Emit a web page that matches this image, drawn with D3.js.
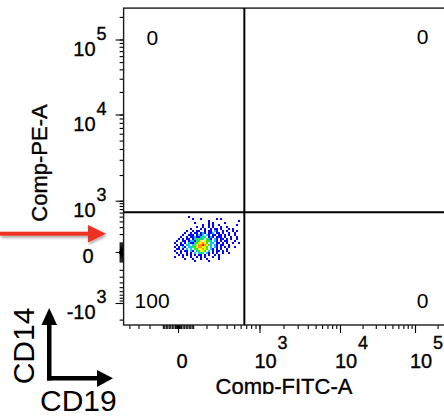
<!DOCTYPE html>
<html>
<head>
<meta charset="utf-8">
<script src="https://cdn.jsdelivr.net/npm/d3@7"></script>
<style>
body { margin: 0; background: #fff; }
text { font-family: "Liberation Sans", Arial, sans-serif; fill: #000; }
.lab { stroke: #000; stroke-width: 0.35px; }
</style>
</head>
<body>
<div id="chart"></div>
<script>
// axis data (raw fluorescence values)
var fitcMajor = [0, 1000, 10000, 100000];
var fitcLabels = [["0", ""], ["10", "3"], ["10", "4"], ["10", "5"]];
var peMajor = [-1000, 0, 1000, 10000, 100000];
var peLabels = [["-10", "3"], ["0", ""], ["10", "3"], ["10", "4"], ["10", "5"]];
var fitcExtent = [-475, 262144];
var peExtent = [-2500, 262144];

// quadrant gate and percentages (UL, UR, LL, LR)
var gateFitc = 665, gatePe = 610;
var quadrantPct = ["0", "0", "100", "0"];

// pseudocolor density, binned in biex units; 0 = empty, 1 blue .. 6 red
var fitcBinStart = -0.154, fitcBinStep = 0.0514;
var peBinStart = 1.551, peBinStep = 0.0817;
var densityRows = [
	"....................................",
	"........1...........................",
	"..........1...1.......1.1...........",
	"..................1..............1..",
	"...........1......1.1.....1.........",
	"...............1..1.1..1........1...",
	"............1..1..1.1...1..1........",
	".........1....1.1..1.11.1...1.1.....",
	".......1..1.11..1.11.21..1.1..1.1...",
	"......1..1.11.121.112.11.1..1..1....",
	".....1..111.1212.21.11.11.1.1..1....",
	"....1..1.11211232.121.111.1..1..1...",
	"...1.1.11.123323.321.21.11.1.1..1...",
	"..1..11.1221334.4332.21.1.11...1....",
	".1..1.1.2113344543.22.11.1.1..1..1..",
	"..1.11.22.2345565432.21.11..1.......",
	".1.1.21.2233455443.2.21.1.1.1..1....",
	"..11.1.2.2.3344543.21.1.1..1........",
	".1..1.11.21.23443.2.1.11.1.1........",
	"..1.1..1.1.2.232.21.1.1..1..1.......",
	"...1.1.1.1.1.11.1.1..1.1............",
	".1...1...1..1.1.1...1..1............",
	"......1...1...1..1.....1............",
	"...........1......1................."
];
var palette = ["#0000ff", "#00c8ff", "#2ee82e", "#ffff00", "#ff9a00", "#ff1a00"];

var cofactor = 250;
function biex(v) { return Math.asinh(v / cofactor); }

var x = d3.scaleLinear()
	.domain(fitcMajor.map(biex))
	.range([178, 259.5, 340, 415]);

var y = d3.scaleLinear()
	.domain(peMajor.map(biex))
	.range([303, 252, 200.7, 114.5, 39.5]);

var plotLeft = x(biex(fitcExtent[0])),
	plotRight = x(biex(fitcExtent[1])),
	plotTop = y(biex(peExtent[1])),
	plotBottom = y(biex(peExtent[0]));

function minorTicks(lo, hi) {
	var t = [];
	for (var d = 0; d <= 5; d++) {
		for (var k = 1; k <= 9; k++) {
			var v = k * Math.pow(10, d);
			if (v <= hi) t.push(v);
			if (-v >= lo) t.push(-v);
		}
	}
	return t;
}

var svg = d3.select("#chart").append("svg")
	.attr("width", 444)
	.attr("height", 418);

var defs = svg.append("defs");
defs.append("filter")
	.attr("id", "shadow")
	.append("feDropShadow")
	.attr("dx", 1).attr("dy", 2)
	.attr("stdDeviation", 1.5)
	.attr("flood-opacity", 0.35);

defs.append("clipPath")
	.attr("id", "cut")
	.append("rect")
	.attr("x", 0).attr("y", 0)
	.attr("width", 444).attr("height", 394);

// density cells
var cells = [];
densityRows.forEach(function(row, i) {
	row.split("").forEach(function(ch, j) {
		if (ch !== ".") cells.push({i: i, j: j, level: +ch});
	});
});

svg.append("g").selectAll("rect")
	.data(cells)
	.enter().append("rect")
	.attr("x", function(d) { return x(fitcBinStart + d.j * fitcBinStep); })
	.attr("y", function(d) { return y(peBinStart - d.i * peBinStep); })
	.attr("width", function(d) { return x(fitcBinStart + (d.j + 1) * fitcBinStep) - x(fitcBinStart + d.j * fitcBinStep); })
	.attr("height", function(d) { return y(peBinStart - (d.i + 1) * peBinStep) - y(peBinStart - d.i * peBinStep); })
	.attr("fill", function(d) { return palette[d.level - 1]; });

// axes ticks
var xMinor = minorTicks(fitcExtent[0], fitcExtent[1]).map(biex);
var yMinor = minorTicks(peExtent[0], peExtent[1]).map(biex);

var gx = svg.append("g")
	.attr("transform", "translate(0," + plotBottom + ")");
gx.append("g").call(d3.axisBottom(x).tickValues(xMinor).tickSize(4).tickFormat(""));
gx.append("g").call(d3.axisBottom(x).tickValues(fitcMajor.map(biex)).tickSize(8).tickFormat(""));
gx.selectAll(".domain").remove();

var gy = svg.append("g")
	.attr("transform", "translate(" + plotLeft + ",0)");
gy.append("g").call(d3.axisLeft(y).tickValues(yMinor).tickSize(4).tickFormat(""));
gy.append("g").call(d3.axisLeft(y).tickValues(peMajor.map(biex)).tickSize(8).tickFormat(""));
gy.selectAll(".domain").remove();

svg.selectAll(".tick line").attr("stroke", "#000").attr("stroke-width", 1.1);

// frame
svg.append("rect")
	.attr("x", plotLeft)
	.attr("y", plotTop)
	.attr("width", plotRight - plotLeft)
	.attr("height", plotBottom - plotTop)
	.attr("fill", "none")
	.attr("stroke", "#1a1a1a")
	.attr("stroke-width", 1.4);

// quadrant gate
svg.append("line")
	.attr("x1", x(biex(gateFitc))).attr("x2", x(biex(gateFitc)))
	.attr("y1", plotTop).attr("y2", plotBottom)
	.attr("stroke", "#000").attr("stroke-width", 2);
svg.append("line")
	.attr("x1", plotLeft).attr("x2", plotRight)
	.attr("y1", y(biex(gatePe))).attr("y2", y(biex(gatePe)))
	.attr("stroke", "#000").attr("stroke-width", 2);

var qPos = [
	[plotLeft + 23, plotTop + 37, "start"],
	[plotRight - 18, plotTop + 36, "end"],
	[plotLeft + 11, plotBottom - 17, "start"],
	[plotRight - 18, plotBottom - 17, "end"]
];
svg.append("g").selectAll("text")
	.data(quadrantPct)
	.enter().append("text")
	.attr("x", function(d, i) { return qPos[i][0]; })
	.attr("y", function(d, i) { return qPos[i][1]; })
	.attr("text-anchor", function(d, i) { return qPos[i][2]; })
	.style("font-size", "21px")
	.text(function(d) { return d; });

// y tick labels: base and exponent as two texts
peMajor.forEach(function(v, i) {
	var lab = peLabels[i], py = y(biex(v));
	if (lab[1] === "") {
		svg.append("text").attr("class", "lab")
			.attr("x", plotLeft - 30).attr("y", py + 11)
			.attr("text-anchor", "end")
			.style("font-size", "20px")
			.text(lab[0]);
		return;
	}
	svg.append("text").attr("class", "lab")
		.attr("x", plotLeft - 28).attr("y", py + 16)
		.attr("text-anchor", "end")
		.style("font-size", "20px")
		.text(lab[0]);
	svg.append("text").attr("class", "lab")
		.attr("x", plotLeft - 27).attr("y", py)
		.style("font-size", "18px")
		.text(lab[1]);
});

// x tick labels
fitcMajor.forEach(function(v, i) {
	var lab = fitcLabels[i], px = x(biex(v));
	if (lab[1] === "") {
		svg.append("text").attr("class", "lab")
			.attr("x", px + 4).attr("y", 368)
			.attr("text-anchor", "middle")
			.style("font-size", "20px")
			.text(lab[0]);
		return;
	}
	svg.append("text").attr("class", "lab")
		.attr("x", px - 5).attr("y", 368)
		.style("font-size", "20px")
		.text(lab[0]);
	svg.append("text").attr("class", "lab")
		.attr("x", px + 18).attr("y", 349)
		.style("font-size", "18px")
		.text(lab[1]);
});

// axis titles
svg.append("text").attr("class", "lab")
	.attr("x", 284)
	.attr("y", 394)
	.attr("clip-path", "url(#cut)")
	.attr("text-anchor", "middle")
	.style("font-size", "22px")
	.text("Comp-FITC-A");

svg.append("text").attr("class", "lab")
	.attr("transform", "translate(47,163) rotate(-90)")
	.attr("text-anchor", "middle")
	.style("font-size", "22px")
	.text("Comp-PE-A");

// red pointer arrow
var red = svg.append("g").attr("filter", "url(#shadow)").attr("fill", "#ee3322");
red.append("rect").attr("x", 0).attr("y", 231.7).attr("width", 89).attr("height", 4);
red.append("path").attr("d", "M88,225L106,233.7L88,242.5Z");

// CD14 / CD19 orientation arrows
var key = svg.append("g").attr("fill", "#000");
key.append("rect").attr("x", 47).attr("y", 322).attr("width", 4.5).attr("height", 58.5);
key.append("path").attr("d", "M41.5,325L49.2,308L57,325Z");
key.append("rect").attr("x", 47).attr("y", 376).attr("width", 52).attr("height", 4.5);
key.append("path").attr("d", "M97,370L113,378.3L97,387Z");

svg.append("text")
	.attr("transform", "translate(34,346) rotate(-90)")
	.attr("text-anchor", "middle")
	.style("font-size", "30px")
	.text("CD14");

svg.append("text")
	.attr("x", 40)
	.attr("y", 411)
	.style("font-size", "30px")
	.text("CD19");
</script>
</body>
</html>
